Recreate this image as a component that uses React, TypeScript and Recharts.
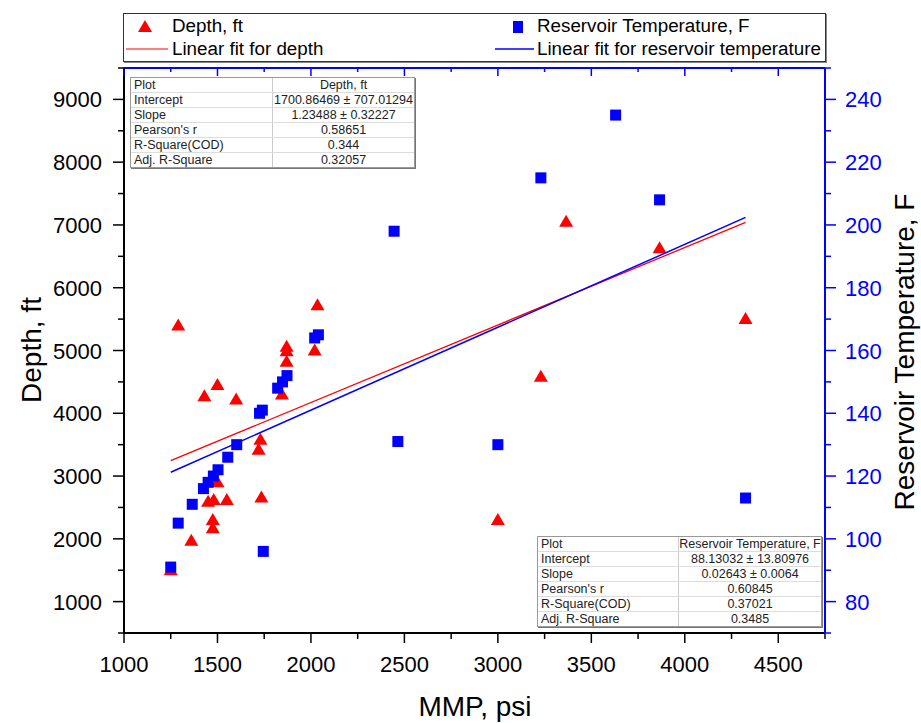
import { ScatterChart, Scatter, XAxis, YAxis } from 'recharts';

// MMP (psi) vs depth (ft)
const mmpDepth = [1250, 1290, 1360, 1430, 1450, 1475, 1475, 1480, 1500, 1500, 1550, 1600, 1720, 1730, 1735, 1845, 1870, 1870, 1870, 2020, 2035, 3000, 3230, 3365, 3865, 4325];
const depthFt = [1500, 5400, 1970, 4270, 2590, 2300, 2170, 2620, 4450, 2900, 2620, 4220, 3420, 3580, 2660, 4300, 5060, 4990, 4820, 5000, 5720, 2300, 4580, 7050, 6630, 5500];

// MMP (psi) vs reservoir temperature (F)
const mmpTemp = [1250, 1290, 1365, 1425, 1450, 1478, 1503, 1555, 1603, 1725, 1740, 1745, 1822, 1848, 1872, 2020, 2040, 2445, 2465, 3000, 3230, 3630, 3865, 4325];
const tempF = [91, 105, 111, 116, 118, 120, 122, 126, 130, 140, 141, 96, 148, 150, 152, 164, 165, 198, 131, 130, 215, 235, 208, 113];

// fit line end points
const fitMmp = [1250, 4325];
const depthFitFt = [3245, 7042];
const tempFitF = [121.2, 202.4];

const xTicks = [1000, 1250, 1500, 1750, 2000, 2250, 2500, 2750, 3000, 3250, 3500, 3750, 4000, 4250, 4500, 4750];
const depthTicks = [500, 1000, 1500, 2000, 2500, 3000, 3500, 4000, 4500, 5000, 5500, 6000, 6500, 7000, 7500, 8000, 8500, 9000, 9500];
const tempTicks = [70, 80, 90, 100, 110, 120, 130, 140, 150, 160, 170, 180, 190, 200, 210, 220, 230, 240, 250];

const depthStats = [
  ['Plot', 'Depth, ft'],
  ['Intercept', '1700.86469 ± 707.01294'],
  ['Slope', '1.23488 ± 0.32227'],
  ["Pearson's r", '0.58651'],
  ['R-Square(COD)', '0.344'],
  ['Adj. R-Square', '0.32057'],
];
const tempStats = [
  ['Plot', 'Reservoir Temperature, F'],
  ['Intercept', '88.13032 ± 13.80976'],
  ['Slope', '0.02643 ± 0.0064'],
  ["Pearson's r", '0.60845'],
  ['R-Square(COD)', '0.37021'],
  ['Adj. R-Square', '0.3485'],
];

const RED = '#ff0000';
const BLUE = '#0000ff';

const depthData = mmpDepth.map((x, i) => ({ x, y: depthFt[i] }));
const tempData = mmpTemp.map((x, i) => ({ x, y: tempF[i] }));
const depthFit = fitMmp.map((x, i) => ({ x, y: depthFitFt[i] }));
const tempFit = fitMmp.map((x, i) => ({ x, y: tempFitF[i] }));

const Triangle = (p: any) => (
  <polygon points={`${p.cx},${p.cy - 7} ${p.cx + 7},${p.cy + 5} ${p.cx - 7},${p.cy + 5}`} fill={RED} />
);
const Square = (p: any) => <rect x={p.cx - 5.5} y={p.cy - 5.5} width={11} height={11} fill={BLUE} />;
const NoDot = () => null;

const BottomTick = (p: any) => {
  const v = p.payload.value;
  const major = v % 500 === 0;
  return (
    <g>
      <line x1={p.x} x2={p.x} y1={p.y} y2={p.y + (major ? 10 : 6)} stroke="#000" strokeWidth={1.5} />
      {major && <text x={p.x} y={p.y + 39} textAnchor="middle" fontSize={22} fill="#000">{v}</text>}
    </g>
  );
};
const TopTick = (p: any) => {
  const v = p.payload.value;
  const major = v % 500 === 0;
  return <line x1={p.x} x2={p.x} y1={p.y} y2={p.y + (major ? 8 : 4)} stroke={BLUE} strokeWidth={1.5} />;
};
const LeftTick = (p: any) => {
  const v = p.payload.value;
  const major = v % 1000 === 0;
  return (
    <g>
      <line x1={p.x} x2={p.x - (major ? 11 : 6)} y1={p.y} y2={p.y} stroke="#000" strokeWidth={1.5} />
      {major && <text x={p.x - 22} y={p.y + 8} textAnchor="end" fontSize={22} fill="#000">{v}</text>}
    </g>
  );
};
const RightTick = (p: any) => {
  const v = p.payload.value;
  const major = v % 20 === 0;
  return (
    <g>
      <line x1={p.x} x2={p.x + (major ? 11 : 6)} y1={p.y} y2={p.y} stroke={BLUE} strokeWidth={1.5} />
      {major && <text x={p.x + 20} y={p.y + 8} textAnchor="start" fontSize={22} fill={BLUE}>{v}</text>}
    </g>
  );
};

const StatsTable = ({ rows, left, top, split }: { rows: string[][]; left: number; top: number; split: number }) => (
  <div
    style={{
      position: 'absolute', left, top, width: 283, background: '#fff',
      border: '1px solid #999', boxShadow: '1px 1px 0 #777', fontSize: 12.5, color: '#222',
    }}
  >
    {rows.map((r, i) => (
      <div key={i} style={{ display: 'flex', height: 14, lineHeight: '14px', borderTop: i ? '1px solid #ddd' : 'none' }}>
        <div style={{ width: split, paddingLeft: 3, borderRight: '1px solid #ccc', boxSizing: 'border-box' }}>{r[0]}</div>
        <div style={{ flex: 1, textAlign: 'center' }}>{r[1]}</div>
      </div>
    ))}
  </div>
);

export default function App() {
  return (
    <div style={{ position: 'absolute', left: 0, top: 0, width: 921, height: 723, background: '#fff', fontFamily: '"Liberation Sans", Arial, sans-serif' }}>
      <ScatterChart width={921} height={723} margin={{ top: 67, right: 0, bottom: 0, left: 0 }}>
        <XAxis
          xAxisId="b" type="number" dataKey="x" domain={[1000, 4750]} ticks={xTicks} interval={0}
          height={90} tickSize={0} tickMargin={0} tickLine={false} tick={<BottomTick />}
          axisLine={{ stroke: '#000', strokeWidth: 2 }} allowDataOverflow
        />
        <XAxis
          xAxisId="t" orientation="top" type="number" dataKey="x" domain={[1000, 4750]} ticks={xTicks} interval={0}
          height={1} tickSize={0} tickMargin={0} tickLine={false} tick={<TopTick />}
          axisLine={{ stroke: BLUE, strokeWidth: 2 }} allowDataOverflow
        />
        <YAxis
          yAxisId="d" type="number" dataKey="y" domain={[500, 9500]} ticks={depthTicks} interval={0}
          width={124} tickSize={0} tickMargin={0} tickLine={false} tick={<LeftTick />}
          axisLine={{ stroke: '#000', strokeWidth: 2 }} allowDataOverflow
        />
        <YAxis
          yAxisId="r" orientation="right" type="number" dataKey="y" domain={[70, 250]} ticks={tempTicks} interval={0}
          width={96} tickSize={0} tickMargin={0} tickLine={false} tick={<RightTick />}
          axisLine={{ stroke: BLUE, strokeWidth: 2 }} allowDataOverflow
        />
        <Scatter xAxisId="b" yAxisId="d" data={depthData} shape={<Triangle />} isAnimationActive={false} />
        <Scatter xAxisId="t" yAxisId="r" data={tempData} shape={<Square />} isAnimationActive={false} />
        <Scatter xAxisId="b" yAxisId="d" data={depthFit} shape={<NoDot />} line={{ stroke: RED, strokeWidth: 1.3 }} isAnimationActive={false} />
        <Scatter xAxisId="t" yAxisId="r" data={tempFit} shape={<NoDot />} line={{ stroke: BLUE, strokeWidth: 1.5 }} isAnimationActive={false} />
      </ScatterChart>

      <div
        style={{
          position: 'absolute', left: 123, top: 13, width: 701, height: 47, border: '1px solid #333',
          boxShadow: '1px 1px 0 #888', background: '#fff', fontSize: 18.8, color: '#000',
        }}
      >
        <svg width={701} height={47} style={{ position: 'absolute', left: 0, top: 0 }}>
          <polygon points="21,6 28,18 14,18" fill={RED} />
          <line x1={2} x2={44} y1={35} y2={35} stroke={RED} strokeWidth={1.2} />
          <rect x={389} y={7} width={10} height={12} fill={BLUE} />
          <line x1={371} x2={410} y1={35} y2={35} stroke={BLUE} strokeWidth={1.5} />
        </svg>
        <div style={{ position: 'absolute', left: 48, top: 1, lineHeight: '22px' }}>Depth, ft</div>
        <div style={{ position: 'absolute', left: 48, top: 24, lineHeight: '22px' }}>Linear fit for depth</div>
        <div style={{ position: 'absolute', left: 413, top: 1, lineHeight: '22px' }}>Reservoir Temperature, F</div>
        <div style={{ position: 'absolute', left: 413, top: 24, lineHeight: '22px' }}>Linear fit for reservoir temperature</div>
      </div>

      <StatsTable rows={depthStats} left={130} top={77} split={142} />
      <StatsTable rows={tempStats} left={537} top={536} split={141} />

      <div style={{ position: 'absolute', left: 32, top: 350, transform: 'translate(-50%, -50%) rotate(-90deg)', fontSize: 28, whiteSpace: 'nowrap' }}>Depth, ft</div>
      <div style={{ position: 'absolute', left: 905, top: 352, transform: 'translate(-50%, -50%) rotate(-90deg)', fontSize: 28, whiteSpace: 'nowrap' }}>Reservoir Temperature, F</div>
      <div style={{ position: 'absolute', left: 475, top: 707, transform: 'translate(-50%, -50%)', fontSize: 28, whiteSpace: 'nowrap' }}>MMP, psi</div>
    </div>
  );
}
